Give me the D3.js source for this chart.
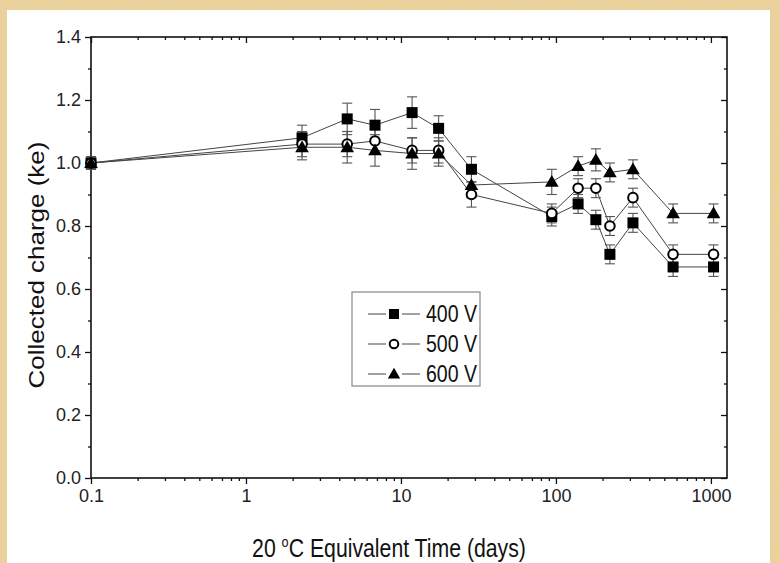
<!DOCTYPE html>
<html>
<head>
<meta charset="utf-8">
<script src="https://cdn.jsdelivr.net/npm/d3@7"></script>
<style>
  body { margin: 0; background: #e9cf95; }
  svg { display: block; font-family: "Liberation Sans", Arial, sans-serif; }
</style>
</head>
<body>
<div id="chart"></div>
<script>
// time in days (20 C equivalent)
var days = [0.1, 2.3, 4.5, 6.8, 11.8, 17.5, 28.5, 94, 139, 181, 223, 314, 570, 1040];

var charge400 = [1.00, 1.08, 1.14, 1.12, 1.16, 1.11, 0.98, 0.83, 0.87, 0.82, 0.71, 0.81, 0.67, 0.67];
var charge500 = [1.00, 1.06, 1.06, 1.07, 1.04, 1.04, 0.90, 0.84, 0.92, 0.92, 0.80, 0.89, 0.71, 0.71];
var charge600 = [1.00, 1.05, 1.05, 1.04, 1.03, 1.03, 0.93, 0.94, 0.99, 1.01, 0.97, 0.98, 0.84, 0.84];

var err400 = [0.02, 0.04, 0.05, 0.05, 0.05, 0.04, 0.04, 0.03, 0.03, 0.03, 0.03, 0.03, 0.03, 0.03];
var err500 = [0.02, 0.04, 0.04, 0.04, 0.04, 0.04, 0.04, 0.03, 0.03, 0.03, 0.03, 0.03, 0.03, 0.03];
var err600 = [0.02, 0.04, 0.05, 0.05, 0.05, 0.04, 0.04, 0.04, 0.03, 0.035, 0.03, 0.03, 0.03, 0.03];

var seriesNames = ['400 V', '500 V', '600 V'];
var xTickValues = [0.1, 1, 10, 100, 1000];
var yTickValues = [0.0, 0.2, 0.4, 0.6, 0.8, 1.0, 1.2, 1.4];

var series = [
  { name: seriesNames[0], y: charge400, err: err400, shape: 'square' },
  { name: seriesNames[1], y: charge500, err: err500, shape: 'circle' },
  { name: seriesNames[2], y: charge600, err: err600, shape: 'triangle' }
];

var w = 780, h = 563;
var pLeft = 91, pRight = 727, pTop = 37, pBottom = 478;
var squeeze = 0.85; // the original figure text looks a bit narrow

var svg = d3.select('#chart').append('svg')
  .attr('width', w)
  .attr('height', h);

// parchment texture
var defs = svg.append('defs');
var filt = defs.append('filter').attr('id', 'paper').attr('x', 0).attr('y', 0).attr('width', '100%').attr('height', '100%');
filt.append('feTurbulence').attr('type', 'fractalNoise').attr('baseFrequency', '0.06 0.6').attr('numOctaves', 3).attr('result', 'n');
filt.append('feColorMatrix').attr('in', 'n').attr('type', 'matrix')
  .attr('values', '0 0 0 0 0.78  0 0 0 0 0.62  0 0 0 0 0.36  0 0 0 0.7 -0.1');
svg.append('rect').attr('width', w).attr('height', h).attr('fill', '#ecd39c');
svg.append('rect').attr('width', w).attr('height', h).attr('fill', '#fff').attr('filter', 'url(#paper)');

svg.append('rect')
  .attr('x', 7).attr('y', 10)
  .attr('width', 763).attr('height', h - 10)
  .attr('fill', '#fff');

var xscale = d3.scaleLog().domain([0.1, 1270]).range([pLeft, pRight]);
var yscale = d3.scaleLinear().domain([0, 1.4]).range([pBottom, pTop]);

// minor tick positions
var xMinor = [];
[0.1, 1, 10, 100, 1000].forEach(function(dec) {
  for (var k = 2; k <= 9; k++) {
    if (dec * k < 1270) xMinor.push(dec * k);
  }
});
var yMinor = d3.range(0.1, 1.4, 0.2);

var tickColor = '#111';

// bottom axis
var xaxis = d3.axisBottom(xscale).tickValues(xTickValues).tickSize(6).tickPadding(5)
  .tickFormat(function(d) { return d < 1 ? '0.1' : d3.format('d')(d); });
svg.append('g').attr('class', 'axis x').attr('transform', 'translate(0,' + pBottom + ')').call(xaxis);
svg.append('g').attr('transform', 'translate(0,' + pBottom + ')')
  .call(d3.axisBottom(xscale).tickValues(xMinor).tickSize(3).tickFormat(''));

// top axis, ticks hanging down
svg.append('g').attr('transform', 'translate(0,' + pTop + ')')
  .call(d3.axisBottom(xscale).tickValues(xTickValues).tickSize(6).tickFormat(''));
svg.append('g').attr('transform', 'translate(0,' + pTop + ')')
  .call(d3.axisBottom(xscale).tickValues(xMinor).tickSize(3).tickFormat(''));

// left axis
var yaxis = d3.axisLeft(yscale).tickValues(yTickValues).tickSize(6).tickPadding(4)
  .tickFormat(d3.format('.1f'));
svg.append('g').attr('class', 'axis y').attr('transform', 'translate(' + pLeft + ',0)').call(yaxis);
svg.append('g').attr('transform', 'translate(' + pLeft + ',0)')
  .call(d3.axisLeft(yscale).tickValues(yMinor).tickSize(3).tickFormat(''));

// right axis, ticks pointing in
svg.append('g').attr('transform', 'translate(' + pRight + ',0)')
  .call(d3.axisLeft(yscale).tickValues(yTickValues).tickSize(6).tickFormat(''));
svg.append('g').attr('transform', 'translate(' + pRight + ',0)')
  .call(d3.axisLeft(yscale).tickValues(yMinor).tickSize(3).tickFormat(''));

svg.selectAll('.domain').remove();
svg.selectAll('.tick line').attr('stroke', tickColor).attr('stroke-width', 1.3);
svg.selectAll('.tick text').attr('fill', '#222').style('font-size', '18px');

// frame
svg.append('rect')
  .attr('x', pLeft).attr('y', pTop)
  .attr('width', pRight - pLeft).attr('height', pBottom - pTop)
  .attr('fill', 'none').attr('stroke', '#111').attr('stroke-width', 1.6);

// marker drawing
function drawMarker(g, shape, cx, cy, s) {
  if (shape === 'square') {
    g.append('rect').attr('x', cx - s / 2).attr('y', cy - s / 2).attr('width', s).attr('height', s).attr('fill', '#000');
  } else if (shape === 'circle') {
    g.append('circle').attr('cx', cx).attr('cy', cy).attr('r', s / 2 - 0.7)
      .attr('fill', '#fff').attr('stroke', '#000').attr('stroke-width', 2);
  } else {
    var r = s * 0.62;
    g.append('path')
      .attr('d', 'M' + cx + ',' + (cy - r) + 'L' + (cx + r) + ',' + (cy + r * 0.72) + 'L' + (cx - r) + ',' + (cy + r * 0.72) + 'Z')
      .attr('fill', '#000');
  }
}

var line = d3.line()
  .x(function(d) { return xscale(d[0]); })
  .y(function(d) { return yscale(d[1]); });

// lines first
series.forEach(function(s) {
  var pts = days.map(function(d, i) { return [d, s.y[i]]; });
  svg.append('path').datum(pts)
    .attr('d', line)
    .attr('fill', 'none')
    .attr('stroke', '#444')
    .attr('stroke-width', 1);
});

// error bars
series.forEach(function(s) {
  var g = svg.append('g').attr('stroke', '#555').attr('stroke-width', 1.1);
  days.forEach(function(d, i) {
    var cx = xscale(d);
    var y1 = yscale(s.y[i] + s.err[i]), y0 = yscale(s.y[i] - s.err[i]);
    g.append('line').attr('x1', cx).attr('x2', cx).attr('y1', y1).attr('y2', y0);
    g.append('line').attr('x1', cx - 5).attr('x2', cx + 5).attr('y1', y1).attr('y2', y1);
    g.append('line').attr('x1', cx - 5).attr('x2', cx + 5).attr('y1', y0).attr('y2', y0);
  });
});

// markers
series.forEach(function(s) {
  var g = svg.append('g');
  days.forEach(function(d, i) {
    drawMarker(g, s.shape, xscale(d), yscale(s.y[i]), 11);
  });
});

// legend
var lg = svg.append('g').attr('transform', 'translate(352,292)');
lg.append('rect').attr('width', 128).attr('height', 94)
  .attr('fill', '#fff').attr('stroke', '#888').attr('stroke-width', 1.2);
series.forEach(function(s, i) {
  var ly = 22 + i * 30;
  lg.append('line').attr('x1', 16).attr('x2', 68).attr('y1', ly).attr('y2', ly)
    .attr('stroke', '#444').attr('stroke-width', 1);
  lg.append('rect').attr('x', 34).attr('y', ly - 5).attr('width', 16).attr('height', 10).attr('fill', '#fff');
  drawMarker(lg, s.shape, 42, ly, 10);
  lg.append('text')
    .attr('transform', 'translate(74,' + (ly + 8) + ') scale(' + squeeze + ',1)')
    .style('font-size', '23px').attr('fill', '#111')
    .text(s.name);
});

// axis titles
svg.append('text')
  .attr('transform', 'translate(44,265) rotate(-90) scale(1,' + squeeze + ')')
  .attr('text-anchor', 'middle')
  .style('font-size', '26px').attr('fill', '#111')
  .text('Collected charge (ke)');

var xt = svg.append('text')
  .attr('transform', 'translate(389,557) scale(' + squeeze + ',1)')
  .attr('text-anchor', 'middle')
  .style('font-size', '25px').attr('fill', '#111');
xt.append('tspan').text('20 ');
xt.append('tspan').attr('dy', -10).style('font-size', '15px').text('o');
xt.append('tspan').attr('dy', 10).text('C Equivalent Time (days)');
</script>
</body>
</html>
